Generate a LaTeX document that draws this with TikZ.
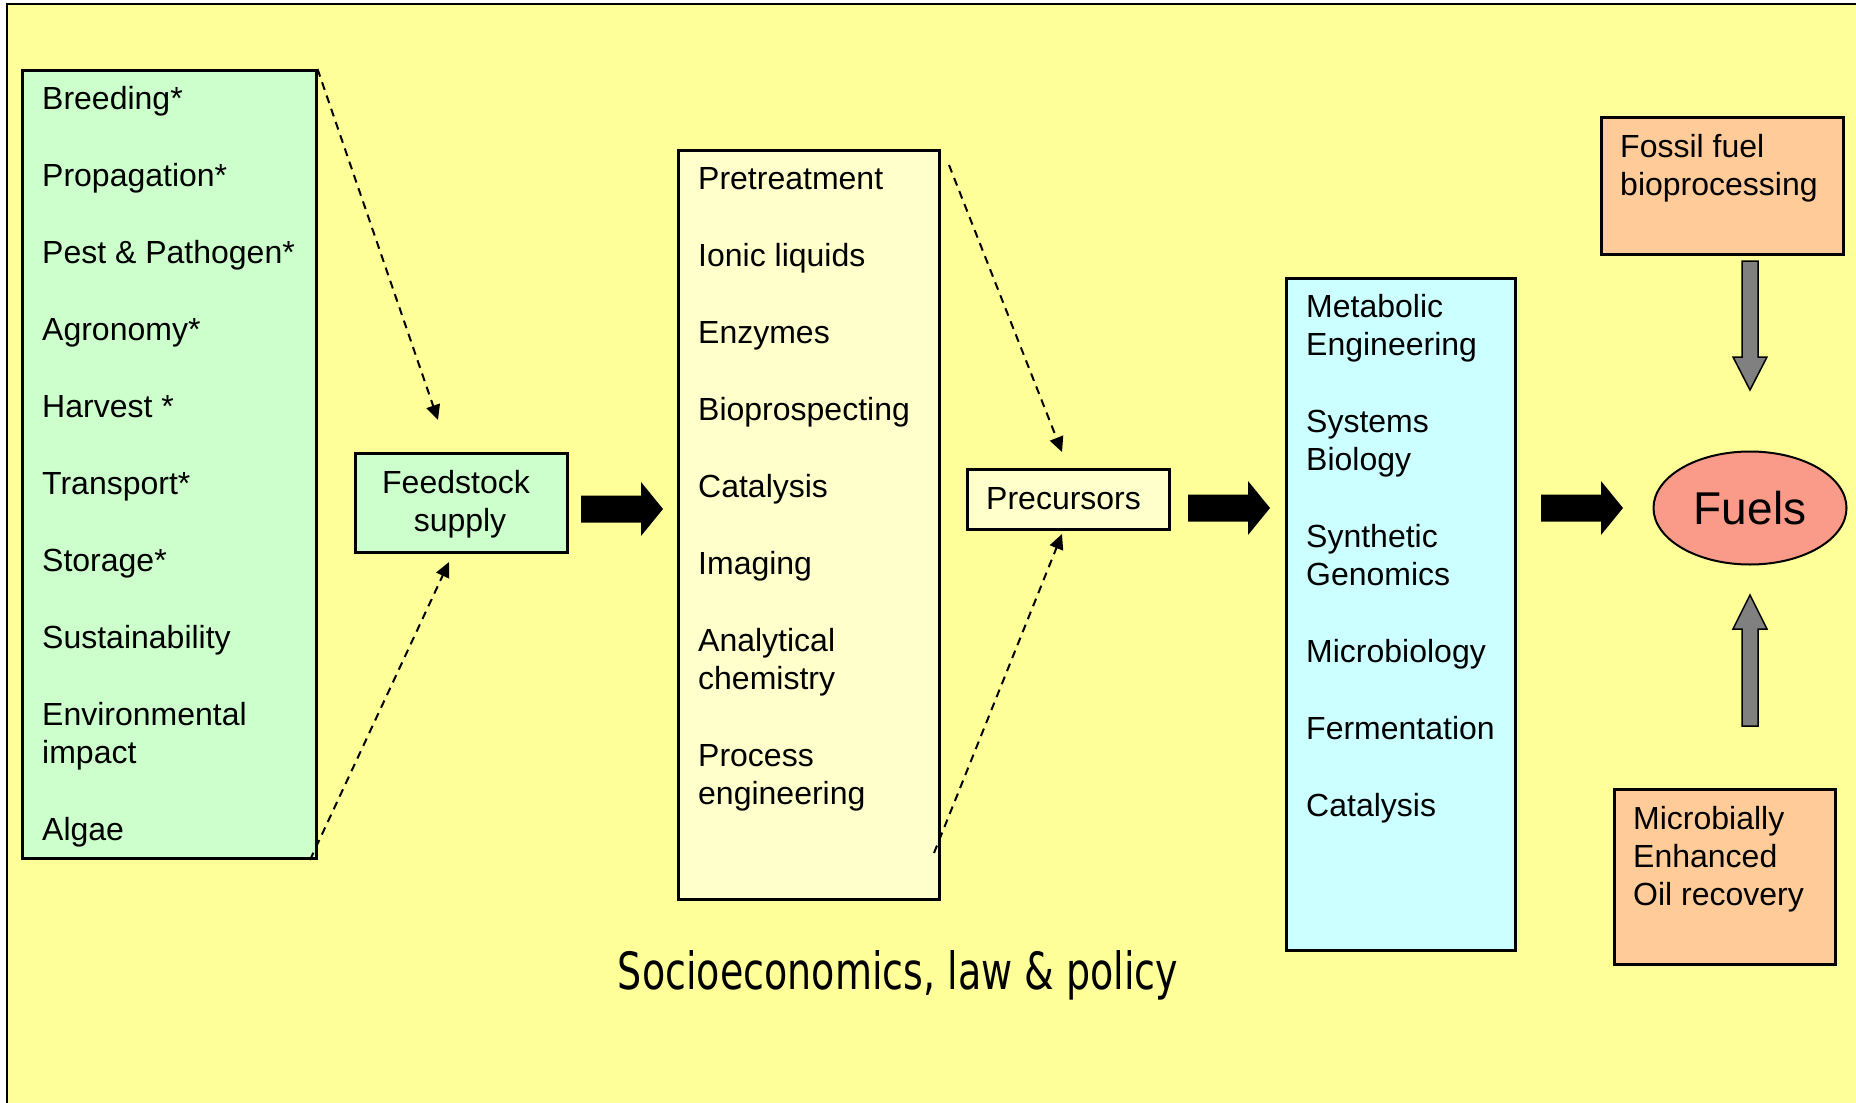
\documentclass[tikz,border=0pt]{standalone}
\usepackage{fontspec}
\usepackage{graphicx}
\setmainfont{Liberation Sans}
\newfontfamily\handfont{DejaVu Sans}
\usetikzlibrary{arrows.meta,shapes.geometric,calc}
\definecolor{bgyellow}{HTML}{FFFF99}
\definecolor{boxgreen}{HTML}{CCFFCC}
\definecolor{boxpale}{HTML}{FFFFCC}
\definecolor{boxcyan}{HTML}{CCFFFF}
\definecolor{boxorange}{HTML}{FFCC99}
\definecolor{fuelred}{HTML}{FA9A88}
\definecolor{arrowgray}{HTML}{808080}
\tikzset{
  box/.style={draw=black, line width=2.5pt, anchor=north west, inner sep=0pt},
  txt/.style={anchor=base west, inner sep=0pt, font=\fontsize{32}{38}\selectfont},
  ctxt/.style={anchor=base, inner sep=0pt, font=\fontsize{32}{38}\selectfont},
  dasharrow/.style={line width=2pt, dash pattern=on 8pt off 6pt, -{Triangle[length=15pt,width=14pt]}},
  blockarr/.style={fill=black, draw=none},
  grayarr/.style={fill=arrowgray, draw=black, line width=1.5pt, line join=miter}
}
\newcommand\blockarrow[2]{%
  \path[blockarr] (#1,#2-13.5) -- (#1+60,#2-13.5) -- (#1+60,#2-27) -- (#1+82,#2) --
    (#1+60,#2+27) -- (#1+60,#2+13.5) -- (#1,#2+13.5) -- cycle;}
\begin{document}
\begin{tikzpicture}[x=1pt,y=-1pt]
\useasboundingbox (0,0) rectangle (1856,1103);
\clip (0,0) rectangle (1856,1103);
% background
\draw[fill=bgyellow, line width=2.5pt] (7,4) rectangle (1900,1150);

% green box
\node[box, fill=boxgreen, minimum width=294, minimum height=788] (green) at (21,69) {};
\node[txt] (g1) at (42,109) {Breeding*};
\node[txt] (g2) at (42,186) {Propagation*};
\node[txt] (g3) at (42,263) {Pest \& Pathogen*};
\node[txt] (g4) at (42,340) {Agronomy*};
\node[txt] (g5) at (42,417) {Harvest *};
\node[txt] (g6) at (42,494) {Transport*};
\node[txt] (g7) at (42,571) {Storage*};
\node[txt] (g8) at (42,648) {Sustainability};
\node[txt] (g9a) at (42,725) {Environmental};
\node[txt] (g9b) at (42,763) {impact};
\node[txt] (g10) at (42,840) {Algae};

% feedstock supply
\node[box, fill=boxgreen, minimum width=212, minimum height=99] (feed) at (354,452) {};
\node[ctxt] (f1) at (456,493) {Feedstock};
\node[ctxt] (f2) at (460,531) {supply};

% middle box
\node[box, fill=boxpale, minimum width=261, minimum height=749] (mid) at (677,149) {};
\node[txt] (m1) at (698,189) {Pretreatment};
\node[txt] (m2) at (698,266) {Ionic liquids};
\node[txt] (m3) at (698,343) {Enzymes};
\node[txt] (m4) at (698,420) {Bioprospecting};
\node[txt] (m5) at (698,497) {Catalysis};
\node[txt] (m6) at (698,574) {Imaging};
\node[txt] (m7a) at (698,651) {Analytical};
\node[txt] (m7b) at (698,689) {chemistry};
\node[txt] (m8a) at (698,766) {Process};
\node[txt] (m8b) at (698,804) {engineering};

% precursors
\node[box, fill=boxpale, minimum width=202, minimum height=60] (prec) at (966,468) {};
\node[txt] (p1) at (986,509) {Precursors};

% cyan box
\node[box, fill=boxcyan, minimum width=229, minimum height=672] (cyan) at (1285,277) {};
\node[txt] (c1a) at (1306,317) {Metabolic};
\node[txt] (c1b) at (1306,355) {Engineering};
\node[txt] (c2a) at (1306,432) {Systems};
\node[txt] (c2b) at (1306,470) {Biology};
\node[txt] (c3a) at (1306,547) {Synthetic};
\node[txt] (c3b) at (1306,585) {Genomics};
\node[txt] (c4) at (1306,662) {Microbiology};
\node[txt] (c5) at (1306,739) {Fermentation};
\node[txt] (c6) at (1306,816) {Catalysis};

% fossil fuel box
\node[box, fill=boxorange, minimum width=242, minimum height=137] (fossil) at (1600,116) {};
\node[txt] (o1a) at (1620,157) {Fossil fuel};
\node[txt] (o1b) at (1620,195) {bioprocessing};

% microbial box
\node[box, fill=boxorange, minimum width=221, minimum height=175] (meor) at (1613,788) {};
\node[txt] (o2a) at (1633,829) {Microbially};
\node[txt] (o2b) at (1633,867) {Enhanced};
\node[txt] (o2c) at (1633,905) {Oil recovery};

% fuels
\node[ellipse, draw=black, line width=2pt, fill=fuelred, minimum width=193, minimum height=113, inner sep=0pt,
      font=\fontsize{46}{52}\selectfont] (fuels) at (1750,508) {Fuels};

% block arrows
\blockarrow{581}{509}
\blockarrow{1188}{508}
\blockarrow{1541}{508}

% gray arrows
\path[grayarr] (1742,261) -- (1758,261) -- (1758,357) -- (1767,357) -- (1750,390) -- (1733,357) -- (1742,357) -- cycle;
\path[grayarr] (1742,726) -- (1758,726) -- (1758,629) -- (1767,629) -- (1750,595) -- (1733,629) -- (1742,629) -- cycle;

% dashed arrows
\coordinate (a1e) at (438,420);
\coordinate (a2s) at (310,860);
\coordinate (a2e) at (449,562);
\coordinate (a3s) at (949,165);
\coordinate (a3e) at (1062,452);
\coordinate (a4s) at (934,853);
\coordinate (a4e) at (1062,534);
\draw[dasharrow] (green.north east) -- (a1e);
\draw[dasharrow] (a2s) -- (a2e);
\draw[dasharrow] (a3s) -- (a3e);
\draw[dasharrow] (a4s) -- (a4e);

% bottom text
\node[anchor=base, inner sep=0pt] (policy) at (898,989)
  {\resizebox{560pt}{39pt}{\handfont\fontsize{30}{36}\selectfont Socioeconomics, law \& policy}};
\end{tikzpicture}
\end{document}
